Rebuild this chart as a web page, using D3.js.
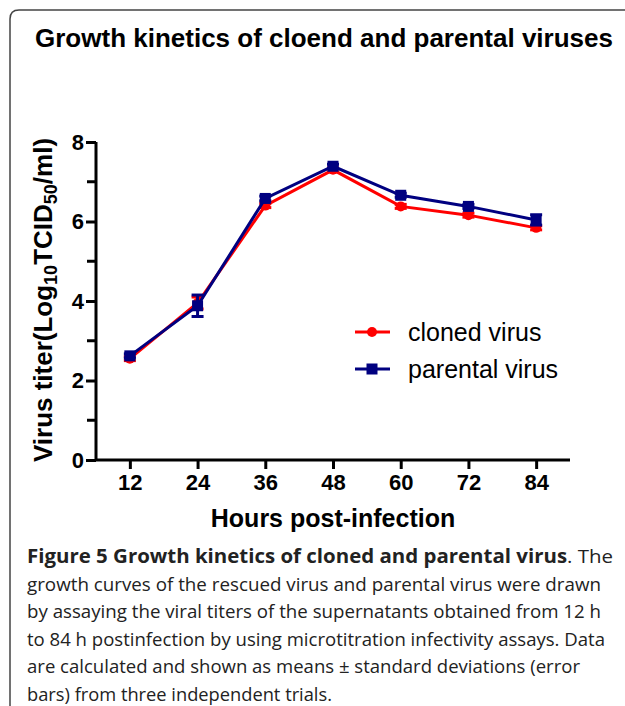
<!DOCTYPE html>
<html>
<head>
<meta charset="utf-8">
<script src="https://cdn.jsdelivr.net/npm/d3@7"></script>
<style>
  body { margin: 0; background: #fff; }
  svg { display: block; }
</style>
</head>
<body>
<div id="container"></div>
<script>
// data
const hours = [12, 24, 36, 48, 60, 72, 84];
const clonedMean = [2.55, 3.95, 6.4, 7.3, 6.38, 6.16, 5.84];
const clonedSD = [0.05, 0.15, 0.05, 0.05, 0.05, 0.05, 0.05];
const parentalMean = [2.62, 3.88, 6.58, 7.39, 6.66, 6.38, 6.04];
const parentalSD = [0.05, 0.27, 0.06, 0.05, 0.05, 0.05, 0.13];
const yTicks = [0, 2, 4, 6, 8];
const yMinorTicks = [1, 3, 5, 7];
const seriesNames = ['cloned virus', 'parental virus'];

const captionLines = [
  ['Figure 5 Growth kinetics of cloned and parental virus', '. The'],
  ['', 'growth curves of the rescued virus and parental virus were drawn'],
  ['', 'by assaying the viral titers of the supernatants obtained from 12 h'],
  ['', 'to 84 h postinfection by using microtitration infectivity assays. Data'],
  ['', 'are calculated and shown as means \u00b1 standard deviations (error'],
  ['', 'bars) from three independent trials.']
];
const captionWidths = [586, 574, 574, 578, 553, 305];

const width = 625;
const height = 706;
const chartFont = 'Arial, "Liberation Sans", sans-serif';

const svg = d3.select('#container')
  .append('svg')
  .attr('width', width)
  .attr('height', height);

// frame (top + left, rounded corner)
svg.append('path')
  .attr('d', 'M10,706 L10,19 Q10,10 19,10 L625,10')
  .attr('fill', 'none')
  .attr('stroke', '#444')
  .attr('stroke-width', 1.5);

// title
svg.append('text')
  .attr('x', 324)
  .attr('y', 47)
  .attr('text-anchor', 'middle')
  .attr('font-family', chartFont)
  .attr('font-weight', 'bold')
  .attr('font-size', 26)
  .text('Growth kinetics of cloend and parental viruses');

const xScale = d3.scaleLinear().domain([6, 90]).range([96, 570]);
const yScale = d3.scaleLinear().domain([0, 8]).range([460, 142]);

// y axis
const yAxis = svg.append('g')
  .attr('transform', 'translate(96,0)')
  .call(d3.axisLeft(yScale).tickValues(yTicks).tickSize(10).tickPadding(2).tickFormat(d3.format('d')));
svg.append('g')
  .selectAll('line')
  .data(yMinorTicks)
  .enter()
  .append('line')
  .attr('x1', 87)
  .attr('x2', 96)
  .attr('y1', d => yScale(d))
  .attr('y2', d => yScale(d))
  .attr('stroke', '#000')
  .attr('stroke-width', 3);

// x axis
const xAxis = svg.append('g')
  .attr('transform', 'translate(0,460)')
  .call(d3.axisBottom(xScale).tickValues(hours).tickSize(9).tickPadding(5).tickFormat(d3.format('d')));

[xAxis, yAxis].forEach(ax => {
  ax.select('.domain').attr('stroke', '#000').attr('stroke-width', 3);
  ax.selectAll('.tick line').attr('stroke', '#000').attr('stroke-width', 3);
  ax.selectAll('.tick text')
    .attr('fill', '#000')
    .attr('font-family', chartFont)
    .attr('font-weight', 'bold')
    .attr('font-size', 22);
});
xAxis.select('.domain').attr('d', 'M96,0H570');
yAxis.select('.domain').attr('d', 'M0,142V460');
xAxis.selectAll('.tick text').attr('dy', '0.71em');

// axis labels
svg.append('text')
  .attr('x', 333)
  .attr('y', 527)
  .attr('text-anchor', 'middle')
  .attr('font-family', chartFont)
  .attr('font-weight', 'bold')
  .attr('font-size', 25)
  .text('Hours post-infection');

const yLabel = svg.append('text')
  .attr('transform', 'translate(52,300) rotate(-90)')
  .attr('text-anchor', 'middle')
  .attr('font-family', chartFont)
  .attr('font-weight', 'bold')
  .attr('font-size', 26);
yLabel.append('tspan').text('Virus titer(Log');
yLabel.append('tspan').attr('font-size', 18).attr('dy', 5).text('10');
yLabel.append('tspan').attr('dy', -5).text('TCID');
yLabel.append('tspan').attr('font-size', 18).attr('dy', 5).text('50');
yLabel.append('tspan').attr('dy', -5).text('/ml)');

// series
const series = [
  { name: seriesNames[0], mean: clonedMean, sd: clonedSD, color: '#ff0000', shape: 'circle' },
  { name: seriesNames[1], mean: parentalMean, sd: parentalSD, color: '#000080', shape: 'square' }
];

const line = d3.line()
  .x(d => xScale(d.x))
  .y(d => yScale(d.y));

function drawMarker(g, shape, color, cx, cy) {
  if (shape === 'circle') {
    g.append('circle').attr('cx', cx).attr('cy', cy).attr('r', 5).attr('fill', color);
  } else {
    g.append('rect').attr('x', cx - 5.5).attr('y', cy - 5.5).attr('width', 11).attr('height', 11).attr('fill', color);
  }
}

series.forEach(s => {
  const pts = hours.map((h, i) => ({ x: h, y: s.mean[i], sd: s.sd[i] }));
  const g = svg.append('g');

  // error bars
  pts.forEach(p => {
    const x = xScale(p.x);
    const y1 = yScale(p.y + p.sd);
    const y2 = yScale(p.y - p.sd);
    g.append('line').attr('x1', x).attr('x2', x).attr('y1', y1).attr('y2', y2)
      .attr('stroke', s.color).attr('stroke-width', 3);
    [y1, y2].forEach(yy => {
      g.append('line').attr('x1', x - 6).attr('x2', x + 6).attr('y1', yy).attr('y2', yy)
        .attr('stroke', s.color).attr('stroke-width', 3);
    });
  });

  g.append('path')
    .datum(pts)
    .attr('d', line)
    .attr('fill', 'none')
    .attr('stroke', s.color)
    .attr('stroke-width', 3);

  pts.forEach(p => drawMarker(g, s.shape, s.color, xScale(p.x), yScale(p.y)));
});

// legend
series.forEach((s, i) => {
  const ly = 332 + i * 37;
  const g = svg.append('g');
  g.append('line').attr('x1', 355).attr('x2', 390).attr('y1', ly).attr('y2', ly)
    .attr('stroke', s.color).attr('stroke-width', 3);
  drawMarker(g, s.shape, s.color, 372, ly);
  g.append('text')
    .attr('x', 408)
    .attr('y', ly + 9)
    .attr('font-family', chartFont)
    .attr('font-size', 25)
    .text(s.name);
});

// caption
captionLines.forEach((parts, i) => {
  const t = svg.append('text')
    .attr('x', 27)
    .attr('y', 563 + i * 27.6)
    .attr('font-family', '"Open Sans", sans-serif')
    .attr('font-size', 19)
    .attr('fill', '#222')
    .attr('textLength', captionWidths[i])
    .attr('lengthAdjust', 'spacingAndGlyphs');
  if (parts[0]) t.append('tspan').attr('font-weight', 'bold').text(parts[0]);
  t.append('tspan').text(parts[1]);
});
</script>
</body>
</html>
